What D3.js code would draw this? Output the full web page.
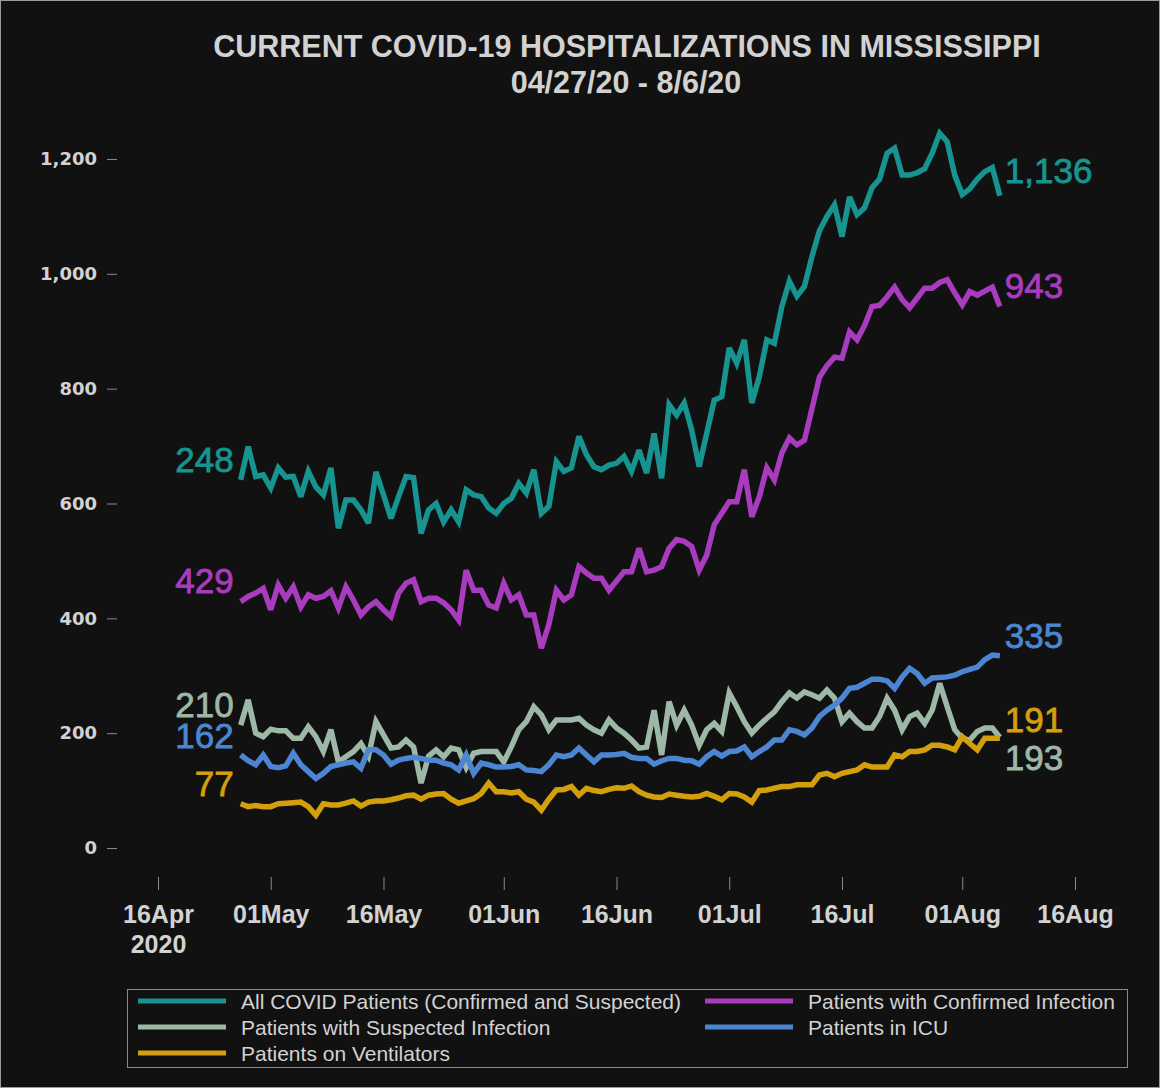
<!DOCTYPE html>
<html><head><meta charset="utf-8">
<script src="https://cdn.jsdelivr.net/npm/d3@7"></script>
<style>html,body{margin:0;padding:0;background:#111111;}svg{display:block;}</style>
</head><body>
<svg id="chart" width="1160" height="1088"></svg>
<script>
// ---------- data ----------
const seriesNames = [
  "All COVID Patients (Confirmed and Suspected)",
  "Patients with Confirmed Infection",
  "Patients with Suspected Infection",
  "Patients in ICU",
  "Patients on Ventilators"
];
const allPatients = [641,699,647,650,627,662,646,647,612,656,629,615,662,557,606,606,589,566,655,615,574,612,647,645,548,589,600,568,589,568,624,615,612,592,583,600,609,635,618,659,583,595,673,656,662,717,685,664,659,667,670,682,656,693,653,722,644,772,754,775,728,664,722,780,786,871,844,885,775,821,885,879,943,987,961,978,1030,1075,1100,1120,1065,1134,1103,1115,1150,1165,1210,1219,1172,1172,1176,1183,1210,1245,1230,1172,1138,1148,1165,1178,1185,1136];
const confirmed = [429,438,444,452,415,458,435,455,420,441,435,438,448,418,455,432,406,420,429,415,403,444,461,467,429,435,435,427,415,397,484,449,449,423,418,461,432,441,406,406,348,389,449,432,441,490,479,470,470,449,465,481,481,522,481,484,490,522,537,534,525,484,510,563,583,603,603,659,577,612,662,641,688,714,702,710,765,820,840,855,853,899,885,910,943,945,960,977,955,941,958,975,975,985,990,967,946,969,963,970,977,943];
const suspected = [214,258,200,194,207,204,204,191,191,211,194,168,206,150,159,168,182,160,220,197,174,176,188,176,113,160,171,159,174,171,140,165,168,168,168,150,176,206,220,246,232,206,223,223,223,226,214,206,200,223,209,200,188,174,176,240,162,255,214,240,214,179,206,217,203,270,246,220,200,214,226,237,255,270,261,272,267,261,275,261,220,235,220,209,209,229,261,240,206,229,235,217,240,287,246,206,191,188,203,209,209,193];
const icu = [162,152,145,162,142,140,143,165,145,133,121,130,142,145,148,150,139,171,171,162,146,153,156,158,156,153,153,148,145,136,162,130,148,145,141,141,142,145,136,135,133,145,162,159,162,174,162,150,162,162,163,165,158,156,156,146,152,156,156,153,152,146,159,168,160,168,169,176,159,168,176,188,188,206,203,197,209,229,240,249,261,278,280,287,294,294,291,278,298,313,304,287,296,297,298,301,307,311,315,328,336,335];
const ventilators = [77,72,74,72,72,77,78,79,80,72,57,77,75,75,78,82,73,80,82,82,84,87,91,92,85,92,94,95,85,78,82,86,95,113,98,98,96,98,85,80,66,85,101,102,107,92,104,100,98,102,105,104,108,98,92,89,88,94,92,90,89,90,95,90,84,95,94,89,80,100,101,104,107,107,110,110,110,127,130,124,130,133,136,145,141,141,141,162,159,168,168,171,179,179,176,171,194,182,171,191,191,191];
const startLabels = ["248","429","210","162","77"];
const endLabels = ["1,136","943","193","335","191"];
const yTickValues = [0,200,400,600,800,1000,1200];
const xTickLabels = ["16Apr","01May","16May","01Jun","16Jun","01Jul","16Jul","01Aug","16Aug"];
const titleText = "CURRENT COVID-19 HOSPITALIZATIONS IN MISSISSIPPI";
const subtitleText = "04/27/20 - 8/6/20";

// ---------- styles ----------
const colors = ["#17948f","#a93bbf","#9db8a6","#4c86d2","#d39f0d"];
const startDy = [-20,-21,-21,-19,-20];
const endDy = [-25,-21,20,-20,-19];
const textColor = "#d2d2d2";

const seriesValues = [allPatients, confirmed, suspected, icu, ventilators];
const dates = d3.utcDay.range(new Date(Date.UTC(2020,3,27)), new Date(Date.UTC(2020,7,7)));
const parseTick = d3.utcParse("%d%b%Y");
const xTickDates = xTickLabels.map(s => parseTick(s + "2020"));

const svg = d3.select("#chart");
svg.append("rect").attr("x",0.5).attr("y",0.5).attr("width",1159).attr("height",1087)
  .attr("fill","#111111").attr("stroke","#9a9a9a").attr("stroke-width",1);

const x = d3.scaleUtc().domain([xTickDates[0], xTickDates[xTickDates.length-1]]).range([158,1075]);
const y = d3.scaleLinear().domain([0,1200]).range([848,159]);

// title
svg.append("text").attr("x",627).attr("y",57).attr("text-anchor","middle")
  .attr("font-family","Liberation Sans, Arial, sans-serif").attr("font-weight","bold")
  .attr("font-size",30.5).attr("fill",textColor).text(titleText);
svg.append("text").attr("x",626).attr("y",93).attr("text-anchor","middle")
  .attr("font-family","Liberation Sans, Arial, sans-serif").attr("font-weight","bold")
  .attr("font-size",30.5).attr("fill",textColor).text(subtitleText);

// y axis
const yAxis = svg.append("g").attr("transform","translate(117,0)")
  .call(d3.axisLeft(y).tickValues(yTickValues).tickFormat(d3.format(",")).tickSize(10).tickPadding(10));
yAxis.select(".domain").remove();
yAxis.selectAll("line").attr("stroke","#8a8a8a");
yAxis.selectAll("text").attr("fill",textColor).attr("font-family","DejaVu Sans, sans-serif")
  .attr("font-weight","bold").attr("font-size",18);

// x axis
const fmt = d3.utcFormat("%d%b");
const xAxis = svg.append("g").attr("transform","translate(0,877)")
  .call(d3.axisBottom(x).tickValues(xTickDates).tickFormat(fmt).tickSize(13));
xAxis.select(".domain").remove();
xAxis.selectAll("line").attr("stroke","#8a8a8a");
xAxis.selectAll("text").attr("fill",textColor).attr("font-family","Liberation Sans, Arial, sans-serif")
  .attr("font-weight","bold").attr("font-size",25).attr("y",28).attr("dy","0.71em");
xAxis.selectAll(".tick").filter((d,i)=>i===0).select("text")
  .append("tspan").attr("x",0).attr("dy","1.2em").text("2020");

// lines
const line = d3.line().x((d,i)=>x(dates[i])).y(d=>y(d)).curve(d3.curveLinear);
seriesValues.forEach((vals,k)=>{
  svg.append("path").datum(vals).attr("d",line).attr("fill","none")
    .attr("stroke",colors[k]).attr("stroke-width",5.5).attr("stroke-linejoin","miter").attr("stroke-miterlimit",3);
});

// start / end labels
seriesValues.forEach((vals,k)=>{
  svg.append("text").attr("x",x(dates[0]) - 7).attr("y",y(vals[0]) + startDy[k])
    .attr("dominant-baseline","central").attr("text-anchor","end")
    .attr("font-family","Liberation Sans, Arial, sans-serif").attr("font-size",35)
    .attr("fill",colors[k]).attr("stroke",colors[k]).attr("stroke-width",0.8).text(startLabels[k]);
  svg.append("text").attr("x",x(dates[dates.length-1]) + 5).attr("y",y(vals[vals.length-1]) + endDy[k])
    .attr("dominant-baseline","central").attr("text-anchor","start")
    .attr("font-family","Liberation Sans, Arial, sans-serif").attr("font-size",35)
    .attr("fill",colors[k]).attr("stroke",colors[k]).attr("stroke-width",0.8).text(endLabels[k]);
});

// legend
const legend = svg.append("g");
legend.append("rect").attr("x",127.5).attr("y",989.5).attr("width",1000).attr("height",78)
  .attr("fill","none").attr("stroke","#8a8a8a").attr("stroke-width",1);
const legendOrder = [0,1,2,3,4];
legendOrder.forEach((k,i)=>{
  const col = i % 2, row = Math.floor(i/2);
  const lx = col === 0 ? 138 : 705;
  const ly = 1001 + row*26;
  legend.append("line").attr("x1",lx).attr("x2",lx+88).attr("y1",ly).attr("y2",ly)
    .attr("stroke",colors[k]).attr("stroke-width",5);
  legend.append("text").attr("x",lx+103).attr("y",ly).attr("dominant-baseline","central")
    .attr("font-family","Liberation Sans, Arial, sans-serif").attr("font-size",21)
    .attr("fill",textColor).text(seriesNames[k]);
});
</script>
</body></html>
